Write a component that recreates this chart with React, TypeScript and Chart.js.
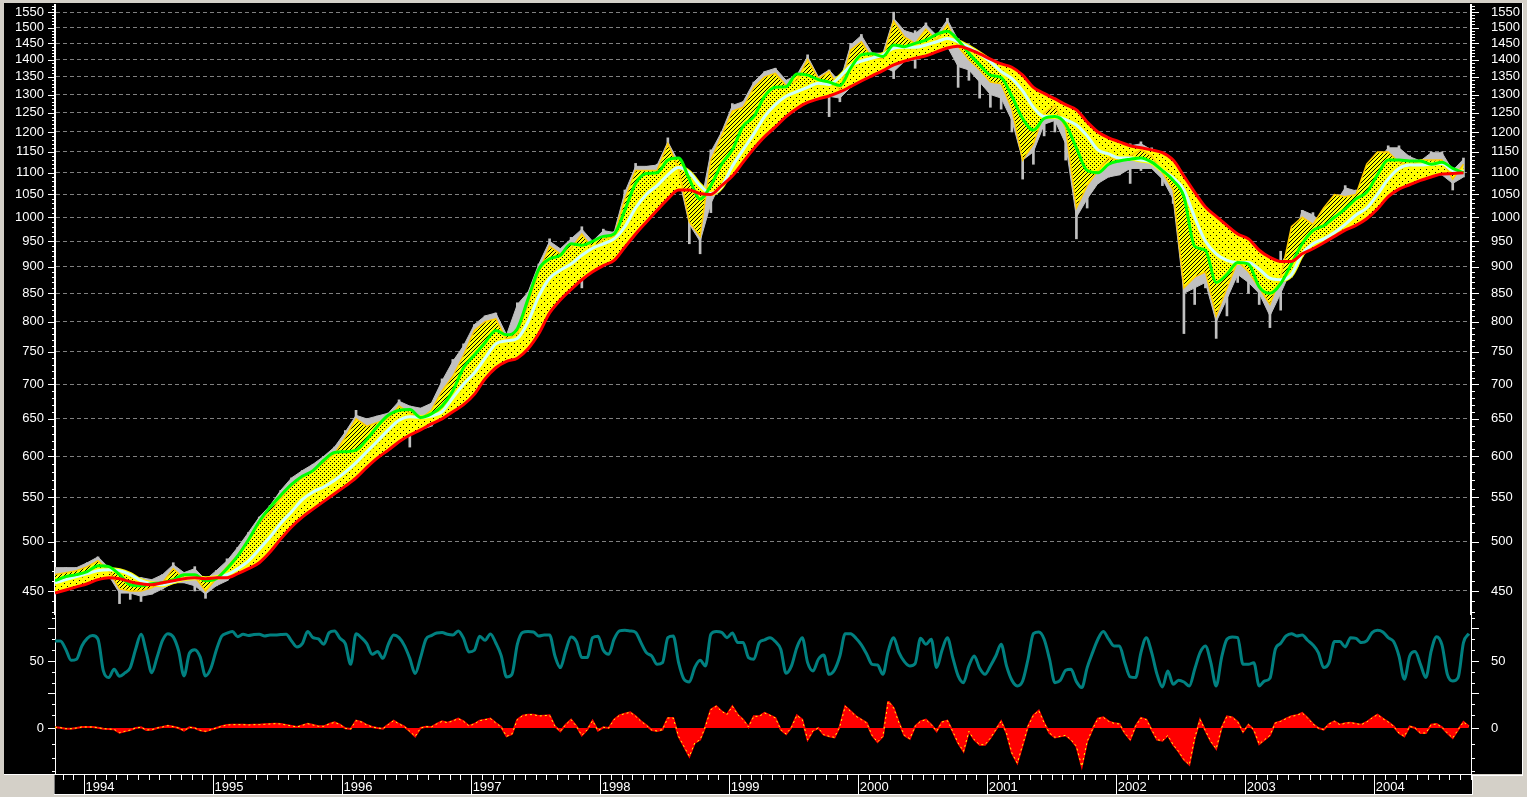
import React, { useEffect, useRef } from "react";
import { Chart, registerables } from "chart.js";

Chart.register(...registerables);

const startYear = 1993.775;
const endYear = 2004.75;

const yearLabels = [1994, 1995, 1996, 1997, 1998, 1999, 2000, 2001, 2002, 2003, 2004];
const priceLabels = [450, 500, 550, 600, 650, 700, 750, 800, 850, 900, 950, 1000, 1050, 1100, 1150, 1200, 1250, 1300, 1350, 1400, 1450, 1500, 1550];
const rsiLabels = [50];
const rsiLongTicks = [75, 50, 25];
const rsiShortTicks = [83.33, 66.67, 58.33, 41.67, 33.33];
const macdLabels = [0];
const macdShortTicks = [18, 9.75, -12, -22.5, -32];

const priceHigh = [
  473, 473, 473, 478, 484, 473, 461, 460, 463, 461,
  466, 478, 468, 474, 461, 470, 482, 494, 510, 527,
  540, 558, 573, 582, 590, 600, 612, 634, 662, 650,
  654, 658, 677, 668, 665, 672, 708, 738, 763, 795,
  810, 815, 775, 833, 852, 905, 955, 935, 958, 980,
  950, 975, 970, 1060, 1122, 1115, 1120, 1185, 1125, 1095,
  1048, 1155, 1200, 1275, 1280, 1335, 1365, 1375, 1340, 1355,
  1415, 1350, 1370, 1335, 1450, 1478, 1420, 1420, 1550, 1490,
  1490, 1515, 1475, 1530, 1465, 1445, 1415, 1385, 1390, 1330,
  1250, 1200, 1280, 1290, 1260, 1190, 1130, 1130, 1160, 1150,
  1170, 1175, 1160, 1125, 1100, 1060, 950, 960, 900, 930,
  950, 910, 890, 890, 930, 940, 1015, 1010, 985, 1030,
  1070, 1060, 1065, 1130, 1165, 1165, 1140, 1130, 1150, 1150,
  1110, 1135,
];
const priceLow = [
  458, 460, 462, 468, 470, 465, 438, 442, 440, 447,
  452, 458, 458, 450, 443, 455, 460, 470, 490, 510,
  525, 540, 555, 565, 572, 575, 590, 600, 610, 615,
  625, 630, 640, 612, 635, 640, 655, 675, 700, 735,
  745, 765, 750, 755, 790, 840, 870, 890, 900, 860,
  915, 925, 935, 975, 1040, 1075, 1080, 1100, 1090, 945,
  925, 1010, 1080, 1110, 1160, 1210, 1240, 1275, 1290, 1310,
  1330, 1320, 1240, 1280, 1320, 1365, 1360, 1380, 1345, 1395,
  1375, 1425, 1440, 1440, 1320, 1340, 1290, 1265, 1260, 1200,
  1085, 1120, 1190, 1200, 1130, 955, 1020, 1075, 1090, 1095,
  1075, 1105, 1110, 1070, 1030, 780, 830, 860, 772, 810,
  870, 850, 830, 790, 820, 880, 920, 950, 960, 975,
  990, 1015, 1030, 1070, 1100, 1110, 1105, 1100, 1095, 1095,
  1060, 1090,
];
const typicalHigh = [
  473, 473, 473, 478, 484, 473, 461, 460, 463, 461,
  466, 476, 468, 472, 461, 470, 480, 494, 510, 527,
  540, 558, 573, 582, 590, 600, 612, 632, 655, 650,
  654, 658, 675, 668, 665, 672, 705, 735, 760, 795,
  810, 815, 778, 830, 852, 905, 950, 935, 955, 975,
  950, 972, 968, 1055, 1115, 1115, 1118, 1175, 1125, 1060,
  1020, 1150, 1200, 1270, 1280, 1335, 1365, 1375, 1340, 1355,
  1410, 1350, 1370, 1335, 1445, 1475, 1420, 1420, 1530, 1490,
  1480, 1510, 1475, 1525, 1460, 1425, 1400, 1365, 1365, 1290,
  1170, 1195, 1270, 1285, 1240, 1060, 1100, 1125, 1150, 1145,
  1165, 1170, 1155, 1120, 1085, 900, 920, 930, 840, 895,
  935, 905, 885, 860, 905, 940, 1015, 1005, 985, 1028,
  1065, 1058, 1062, 1128, 1160, 1160, 1138, 1128, 1148, 1148,
  1105, 1132,
];
const typicalLow = [
  458, 460, 462, 468, 470, 465, 448, 448, 445, 447,
  452, 458, 458, 455, 447, 455, 460, 470, 490, 510,
  525, 540, 555, 565, 572, 575, 590, 600, 625, 618,
  625, 630, 640, 640, 635, 640, 655, 675, 700, 735,
  745, 765, 750, 755, 790, 840, 870, 890, 900, 915,
  915, 925, 935, 975, 1040, 1075, 1080, 1100, 1090, 985,
  950, 1030, 1080, 1110, 1160, 1210, 1240, 1275, 1290, 1310,
  1330, 1320, 1295, 1290, 1320, 1365, 1360, 1380, 1365, 1395,
  1400, 1425, 1440, 1440, 1380, 1370, 1335, 1300, 1290, 1230,
  1130, 1150, 1220, 1230, 1170, 1000, 1040, 1075, 1090, 1095,
  1110, 1110, 1110, 1085, 1040, 850, 860, 870, 800, 840,
  885, 870, 850, 810, 850, 895, 920, 950, 960, 975,
  990, 1015, 1030, 1070, 1100, 1110, 1105, 1100, 1095, 1095,
  1075, 1090,
];
const fastAverage = [
  466, 468, 470, 474, 480, 470, 452, 450, 450, 453,
  458, 472, 462, 464, 450, 462, 474, 486, 503, 520,
  532, 548, 563, 573, 582, 592, 603, 625, 650, 640,
  645, 650, 668, 658, 650, 662, 690, 712, 745, 785,
  800, 805, 770, 780, 830, 890, 940, 925, 935, 965,
  935, 955, 960, 1040, 1105, 1105, 1105, 1170, 1110, 990,
  960, 1130, 1190, 1255, 1265, 1320, 1350, 1360, 1325, 1340,
  1400, 1345, 1365, 1310, 1430, 1455, 1405, 1405, 1520, 1470,
  1450, 1495, 1460, 1510, 1440, 1400, 1370, 1335, 1330, 1260,
  1130, 1170, 1250, 1270, 1210, 1020, 1070, 1105, 1135, 1130,
  1140, 1155, 1140, 1100, 1060, 860, 880, 890, 810, 860,
  910, 890, 860, 830, 880, 980, 1000, 985, 1020, 1050,
  1045, 1050, 1120, 1150, 1150, 1125, 1115, 1130, 1130, 1130,
  1085, 1120,
];
const greenAverage = [
  460, 464, 466, 469, 475, 474, 466, 456, 455, 457,
  458, 461, 466, 466, 460, 462, 472, 485, 502, 522,
  538, 552, 565, 575, 582, 595, 605, 606, 608, 622,
  640, 655, 662, 663, 652, 657, 668, 690, 725, 745,
  765, 785, 778, 788, 840, 895, 915, 922, 945, 942,
  950, 960, 965, 1015, 1075, 1098, 1100, 1130, 1135, 1085,
  1040, 1070, 1120, 1155, 1215, 1240, 1295, 1320, 1322, 1358,
  1355, 1342, 1335, 1325, 1375, 1415, 1418, 1410, 1445, 1440,
  1450, 1460, 1478, 1488, 1460, 1420, 1385, 1355, 1348, 1295,
  1235, 1205, 1235, 1240, 1220, 1160, 1105, 1100, 1120, 1128,
  1132, 1135, 1125, 1105, 1082, 1045, 940, 932, 870, 885,
  908, 905, 862, 850, 868, 905, 945, 972, 982, 1000,
  1018, 1040, 1055, 1095, 1130, 1130, 1128, 1128, 1120, 1125,
  1110, 1100,
];
const whiteAverage = [
  458, 461, 464, 467, 470, 471, 470, 466, 460, 457,
  456, 459, 462, 463, 462, 463, 466, 472, 480, 492,
  505, 520, 533, 547, 556, 562, 570, 580, 592, 606,
  620, 635, 648, 653, 652, 654, 660, 680, 700, 717,
  740, 763, 768, 772, 800, 845, 878, 893, 905, 922,
  936, 945, 955, 980, 1020, 1050, 1070, 1095, 1112, 1100,
  1070, 1052, 1068, 1115, 1155, 1195, 1240, 1272, 1295, 1308,
  1320, 1332, 1328, 1350, 1382, 1396, 1405, 1415, 1435, 1438,
  1438, 1445, 1455, 1465, 1455, 1438, 1418, 1395, 1365, 1345,
  1310, 1265, 1240, 1240, 1232, 1218, 1190, 1155, 1145, 1135,
  1135, 1130, 1125, 1105, 1088, 1060, 1000, 950, 925, 912,
  908, 908, 895, 878, 875, 885, 925, 945, 955, 968,
  985, 1005, 1020, 1050, 1085, 1110, 1118, 1118, 1120, 1122,
  1105, 1103,
];
const redAverage = [
  448, 451, 454, 457, 461, 463, 462, 459, 457, 456,
  458, 460, 462, 463, 462, 463, 463, 467, 472, 478,
  489, 503, 516, 527, 536, 545, 554, 563, 573, 586,
  598, 608, 619, 628, 635, 643, 650, 660, 670, 685,
  708, 725, 735, 740, 755, 780, 815, 838, 857, 875,
  890, 902, 912, 938, 965, 990, 1015, 1040, 1060, 1060,
  1052, 1050, 1070, 1092, 1125, 1158, 1188, 1213, 1240, 1262,
  1278, 1288, 1296, 1307, 1322, 1338, 1353, 1368, 1385, 1396,
  1405, 1412, 1424, 1436, 1441, 1432, 1418, 1402, 1388, 1378,
  1355, 1320, 1303, 1288, 1272, 1258, 1226, 1200, 1185, 1175,
  1165, 1160, 1155, 1148, 1130, 1092, 1055, 1022, 1002, 983,
  965, 955, 932, 918, 910, 910, 925, 935, 947, 960,
  973, 983, 997, 1018, 1045, 1062, 1072, 1082, 1090, 1097,
  1098, 1100,
];
const rsiValues = [
  65.4, 65.4, 59, 50.5, 51.3, 61.5, 67.4, 69.5, 66.7, 42.3,
  37.2, 43.6, 38.2, 40.8, 44.9, 59, 70.5, 56.4, 41, 53.1,
  65.9, 71, 68.5, 57.7, 38.5, 55.9, 58.7, 53.1, 38.5, 44.4,
  58.2, 69, 71.3, 72.6, 68.7, 70.5, 69.5, 70.3, 70.5, 69.2,
  70, 70, 70.3, 70.5, 65.4, 60.8, 63.3, 72.6, 67.9, 66.9,
  62.8, 71.8, 73.1, 67.4, 63.3, 47.4, 71, 67.9, 63.3, 55.1,
  57.2, 52, 62.8, 70, 67.9, 61.8, 52, 40.3, 52.6, 66.7,
  69.5, 71.5, 71.8, 70.5, 70, 73.1, 67.4, 56.9, 58.2, 69,
  65.9, 70.8, 63.8, 54.1, 37.7, 39.7, 62.8, 72, 72.6, 72.3,
  69.2, 70, 70, 53.8, 44.9, 57.7, 68.5, 64.9, 52.6, 52.6,
  67.9, 69, 58.2, 55.1, 66.7, 73.1, 73.6, 73.1, 72, 64.1,
  56.4, 53.8, 47.4, 48.7, 67.9, 69.2, 48.7, 35.9, 33.8, 44.9,
  50.5, 46.2, 70.5, 72.6, 72, 67.9, 71.5, 64.1, 64.1, 52.6,
  51.3, 64.1,
  66.2, 67.9, 64.9, 59, 40.5, 46.2, 60.3, 67.9, 48.7, 42.3,
  51.3, 54.6, 39.7, 43.1, 53.8, 71, 71, 67.4, 62.3, 55.1,
  47.4, 46.9, 39.7, 57.7, 67.9, 56.4, 49.5, 46.2, 48, 67.4,
  62.8, 66.7, 44.9, 58.2, 67.9, 52.6, 38.5, 33.3, 46.2, 53.8,
  44.4, 39.7, 46.2, 53.8, 62.8, 46.2, 35.1, 30.8, 34.6, 51.3,
  71, 72.3, 66.7, 51.3, 33.3, 35.1, 42.8, 43.6, 34.1, 29.5,
  44.9, 56.4, 66.7, 72.6, 66.7, 61.5, 61.5, 48.7, 37.7, 37.2,
  56.4, 67.9, 56.4, 39.7, 30, 42.3, 32, 35.1, 33.8, 30.8,
  43.6, 56.4, 61.5, 48.7, 30.8, 52.6, 66.7, 68.5, 67.9, 47.4,
  47.4, 48.7, 30.8, 34.6, 36.7, 59, 63.6, 69.2, 71, 69.2,
  70, 65.9, 62.3, 56.4, 44.9, 48.7, 64.9, 64.9, 60.8, 67.9,
  67.4, 64.1, 65.4, 71.8, 73.6, 72.3, 67.9, 64.9, 53.8, 35.9,
  53.8, 57.2, 47.4, 37.2, 57.7, 68.7, 62.3, 39.7, 34.6, 37.2,
  64.1, 71,
];
const macdValues = [
  0.5, 0.25, -0.5, -0.5, 0, 0.75, 0.75, 0.75, 0.25, -0.5,
  -0.75, -1, -3.5, -2.5, -1.5, 0, 0.5, -1.5, -1.25, 0,
  0.75, 1.75, 1, 0, -2, 0.5, 0, -1.75, -2.5, -1.25,
  0, 1.25, 2.25, 2.5, 2.5, 2.5, 2.25, 2.5, 2.5, 2.75,
  3, 3.25, 3, 2.25, 1.5, 0.75, 2, 3.25, 2.25, 1.25,
  1.25, 3, 4.25, 2.5, -0.25, -0.75, 5.5, 4.5, 2.25, 0.75,
  0, -0.5, 2.5, 5.5, 3, 1, -2.5, -6.25, 0, 1,
  0.75, 3, 5, 4, 5.25, 7, 5, 1.5, 3, 5.5,
  6.25, 7, 3.75, 0.75, -6.25, -4.5, 6.25, 9.25, 10, 10,
  9, 9.25, 9.5, 1.25, -2.5, 2.5, 6.25, 1.25, -5.5, -1.25,
  5.5, -2, 0.5, 0, 6.25, 9.5, 10.75, 11.75, 8.75, 5,
  2, -1.5, -2.25, -1.25, 7.5, 7.5, -6.25, -13.75, -21.25, -11.25,
  -8.75, 1.25, 13.75, 16.25, 12.5, 10, 16.25, 10, 6.25, 0.75,
  8.75, 8.75,
  11.25, 9.5, 7.5, -1.25, -4.5, 0.5, 9.5, 6.25, -8.75, -2,
  0, -5, -6.25, -7, 1.25, 16.25, 12.5, 8.75, 6.25, 3.75,
  -5.5, -10.5, -6.25, 20, 15, 3.75, -5.5, -8, 1.25, 5,
  6.25, 2.5, -2.5, 4.5, 5.5, -2.5, -11.25, -17.5, -2.5, -8.75,
  -12.5, -12.5, -7.5, -1.25, 5, -3.75, -18.75, -26.25, -12.5, 1.25,
  9.5, 13, 3.75, -3.75, -7, -6.25, -5.5, -8.75, -13.75, -28.75,
  -10, -0.75, 7, 8, 5, 3.5, 3, -3.75, -8.75, 1.25,
  7.5, 6.25, -1.25, -8.75, -9.5, -5.5, -12.5, -17.5, -23.75, -27.5,
  -7.5, 6.25, -2, -10, -15.5, 0, 8.75, 8, 4.5, -3,
  2.5, -1.25, -12, -8.75, -5.5, 3.75, 5, 7, 8.75, 9.5,
  11.25, 7.5, 3, 0, -1.25, 3, 5, 2.5, 3.5, 4,
  3.25, 2.5, 4.5, 7.5, 10, 7, 4.5, 1.25, -3.75, -6.25,
  1.25, 0, -3.75, -3.75, 2.5, 3, 0.5, -3.75, -7.5, -1.25,
  4.5, 1.25,
];

const monthly = (arr: number[]) => arr.map((y, i) => ({ x: startYear + i / 12, y }));
const halfMonthly = (arr: number[]) => arr.map((y, i) => ({ x: startYear + i / 24, y }));
const monthlyRange = (lo: number[], hi: number[]) => lo.map((l, i) => ({ x: startYear + i / 12, y: [l, hi[i]] }));

const FONT = { family: "'Liberation Sans', Arial, sans-serif", size: 13 };
const GREY = "#d4d0c8";

function makeHatch(size: number, cells: number[][]): CanvasPattern {
  const c = document.createElement("canvas");
  c.width = size;
  c.height = size;
  const g = c.getContext("2d")!;
  g.fillStyle = "#ffff00";
  g.fillRect(0, 0, size, size);
  g.fillStyle = "#000000";
  for (const [x, y] of cells) g.fillRect(x, y, 1, 1);
  return g.createPattern(c, "repeat")!;
}

const windowFrame = {
  id: "windowFrame",
  beforeDraw(chart: any) {
    const { ctx, width, height } = chart;
    ctx.save();
    ctx.fillStyle = GREY;
    ctx.fillRect(0, 0, width, height);
    ctx.fillStyle = "#000";
    ctx.fillRect(4, 3, 1518, 771);
    ctx.fillRect(55, 774, 1417, 20);
    ctx.fillStyle = "#fff";
    ctx.fillRect(1522, 3, 1, 772);
    ctx.fillRect(1472, 775, 51, 1);
    ctx.fillRect(1472, 775, 1, 20);
    ctx.fillRect(54, 794, 1419, 1);
    ctx.fillRect(4, 774, 51, 1);
    ctx.fillStyle = "#808080";
    ctx.fillRect(54, 775, 1, 19);
    ctx.restore();
  },
};

function drawYTicks(ctx: any, scale: any, values: number[], len: number) {
  for (const v of values) {
    const y = Math.round(scale.getPixelForValue(v));
    ctx.fillRect(55 - len, y, len, 1);
    ctx.fillRect(1471, y, len + 1, 1);
  }
}

const axisTicks = {
  id: "axisTicks",
  afterDraw(chart: any) {
    const { ctx, scales } = chart;
    ctx.save();
    ctx.fillStyle = "#fff";
    const priceMinor: number[] = [];
    for (let p = 430; p <= 1570; p += 10) if (p % 50 !== 0) priceMinor.push(p);
    drawYTicks(ctx, scales.yPriceL, priceMinor, 3);
    drawYTicks(ctx, scales.yPriceL, priceLabels, 7);
    drawYTicks(ctx, scales.yRsiL, rsiShortTicks, 3);
    drawYTicks(ctx, scales.yRsiL, rsiLongTicks, 7);
    drawYTicks(ctx, scales.yMacdL, macdShortTicks, 3);
    drawYTicks(ctx, scales.yMacdL, macdLabels, 7);
    const xs = scales.x;
    for (let m = Math.ceil(startYear * 12); m / 12 <= endYear; m++) {
      const x = Math.round(xs.getPixelForValue(m / 12));
      ctx.fillRect(x, 774, 1, m % 12 === 0 ? 20 : 6);
    }
    ctx.restore();
  },
};

const fitSide = (w: number) => (s: any) => {
  s.width = w;
  s.paddingTop = 0;
  s.paddingBottom = 0;
  s.paddingLeft = 0;
  s.paddingRight = 0;
};

function yAxis(opts: {
  type: string; position: string; stackName: string; stackWeight: number; weight: number;
  min: number; max: number; labels: number[]; grid?: boolean; borderWidth: number;
}) {
  const left = opts.position === "left";
  return {
    type: opts.type,
    position: opts.position,
    stack: opts.stackName,
    stackWeight: opts.stackWeight,
    weight: opts.weight,
    min: opts.min,
    max: opts.max,
    afterFit: fitSide(left ? 55 : 56),
    afterBuildTicks: (s: any) => {
      s.ticks = opts.labels.map((value) => ({ value }));
    },
    grid: {
      display: !!opts.grid,
      drawOnChartArea: !!opts.grid,
      drawTicks: false,
      color: "#808080",
      lineWidth: 1,
    },
    border: { display: true, color: "#ffffff", width: opts.borderWidth, dash: [4, 3] },
    ticks: {
      color: "#ffffff",
      font: FONT,
      padding: left ? 11 : 20,
      autoSkip: false,
      maxRotation: 0,
      callback: (v: any) => String(v),
    },
  };
}

export default function App() {
  const ref = useRef<HTMLCanvasElement | null>(null);

  useEffect(() => {
    document.body.style.margin = "0";
    document.body.style.overflow = "hidden";
    const line = (data: any[], color: string, width: number, order: number, yAxisID = "yPriceL", extra: any = {}) => ({
      type: "line",
      data,
      borderColor: color,
      borderWidth: width,
      backgroundColor: "transparent",
      pointRadius: 0,
      tension: 0,
      fill: false,
      order,
      yAxisID,
      xAxisID: "x",
      ...extra,
    });
    const smooth = { cubicInterpolationMode: "monotone" };

    const darkHatch = makeHatch(4, [[0, 3], [1, 2], [2, 1], [3, 0]]);
    const midHatch = makeHatch(4, [[0, 3], [2, 1]]);
    const lightHatch = makeHatch(6, [[1, 4], [4, 1]]);

    const datasets = [
      line(monthly(redAverage), "#ff0000", 3, 0, "yPriceL", smooth),
      line(monthly(greenAverage), "#00ff00", 3, 1, "yPriceL", smooth),
      line(monthly(whiteAverage), "#ccffff", 3, 2, "yPriceL", smooth),
      line(monthly(fastAverage), "#ffcc00", 1.5, 3),
      line(monthly(whiteAverage), "#ffff00", 5, 4, "yPriceL", smooth),
      line(monthly(fastAverage), "transparent", 0, 5, "yPriceL", { backgroundColor: darkHatch, fill: { target: 1 } }),
      line(monthly(greenAverage), "transparent", 0, 6, "yPriceL", { ...smooth, backgroundColor: midHatch, fill: { target: 2 } }),
      line(monthly(whiteAverage), "transparent", 0, 7, "yPriceL", { ...smooth, backgroundColor: lightHatch, fill: { target: 0 } }),
      line(monthly(typicalHigh), "#c0c0c0", 1, 9),
      line(monthly(typicalLow), "#c0c0c0", 1, 8, "yPriceL", { backgroundColor: "#c0c0c0", fill: { target: 8 } }),
      {
        type: "bar",
        data: monthlyRange(priceLow, priceHigh),
        backgroundColor: "#c0c0c0",
        barThickness: 2,
        grouped: false,
        order: 10,
        yAxisID: "yPriceL",
        xAxisID: "x",
      },
      line(halfMonthly(rsiValues), "#008080", 3, 0, "yRsiL", smooth),
      line(halfMonthly(macdValues), "#ffff00", 1, 0, "yMacdL", { borderDash: [2, 3] }),
      line(halfMonthly(macdValues), "#ff0000", 2, 1, "yMacdL", { backgroundColor: "#ff0000", fill: { value: 0 } }),
    ];

    const chart = new Chart(ref.current as HTMLCanvasElement, {
      type: "line",
      data: { datasets } as any,
      plugins: [windowFrame, axisTicks],
      options: {
        animation: false,
        responsive: false,
        devicePixelRatio: 1,
        events: [],
        layout: { padding: { top: 5, bottom: 0, left: 0, right: 0 } },
        plugins: { legend: { display: false }, tooltip: { enabled: false }, title: { display: false } },
        scales: {
          x: {
            type: "linear",
            position: "bottom",
            offset: false,
            min: startYear,
            max: endYear,
            afterFit: (s: any) => {
              s.height = 23;
              s.paddingLeft = 0;
              s.paddingRight = 0;
              s.paddingTop = 0;
              s.paddingBottom = 0;
            },
            afterBuildTicks: (s: any) => {
              s.ticks = yearLabels.map((value) => ({ value }));
            },
            grid: { display: false, drawTicks: false },
            border: { display: true, color: "#ffffff", width: 1 },
            ticks: {
              color: "#ffffff",
              font: FONT,
              padding: 6,
              labelOffset: 16,
              autoSkip: false,
              maxRotation: 0,
              callback: (v: any) => String(v),
            },
          },
          yPriceL: yAxis({ type: "logarithmic", position: "left", stackName: "l", stackWeight: 609, weight: 3, min: 428.4, max: 1574, labels: priceLabels, grid: true, borderWidth: 2 }),
          yRsiL: yAxis({ type: "linear", position: "left", stackName: "l", stackWeight: 87, weight: 2, min: 19.2, max: 86.1, labels: rsiLabels, borderWidth: 1 }),
          yMacdL: yAxis({ type: "linear", position: "left", stackName: "l", stackWeight: 73, weight: 1, min: -34.5, max: 20.25, labels: macdLabels, borderWidth: 1 }),
          yPriceR: yAxis({ type: "logarithmic", position: "right", stackName: "r", stackWeight: 609, weight: 1, min: 428.4, max: 1574, labels: priceLabels, borderWidth: 2 }),
          yRsiR: yAxis({ type: "linear", position: "right", stackName: "r", stackWeight: 87, weight: 2, min: 19.2, max: 86.1, labels: rsiLabels, borderWidth: 1 }),
          yMacdR: yAxis({ type: "linear", position: "right", stackName: "r", stackWeight: 73, weight: 3, min: -34.5, max: 20.25, labels: macdLabels, borderWidth: 1 }),
        },
      } as any,
    });
    return () => chart.destroy();
  }, []);

  return <canvas ref={ref} width={1527} height={797} style={{ display: "block" }} />;
}
